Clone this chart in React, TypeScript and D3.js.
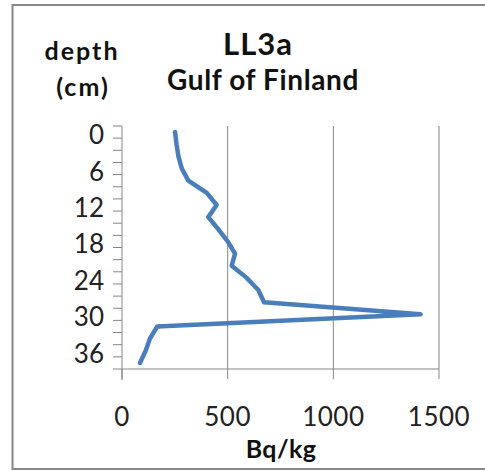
import React from "react";
import * as d3 from "d3";

const depths = [0, 2, 4, 6, 8, 10, 12, 14, 16, 18, 20, 22, 24, 26, 28, 30, 32, 34, 36, 38];
const activity = [251, 258, 267, 283, 314, 401, 448, 408, 456, 500, 535, 519, 590, 645, 672, 1413, 167, 132, 112, 85];
const depthTickLabels = [0, 6, 12, 18, 24, 30, 36];
const xTickValues = [0, 500, 1000, 1500];

const W = 485;
const H = 471;
const FONT = "Lato, 'Open Sans', 'Liberation Sans', sans-serif";
const AXIS = "#868686";

export default function App() {
  const x = d3.scaleLinear().domain([0, 1500]).range([122, 439]);
  const y = d3.scaleBand<number>().domain(depths).range([126, 369]).padding(0);
  const bw = y.bandwidth();
  const cy = (d: number) => (y(d) as number) + bw / 2;

  const pts: [number, number][] = depths.map((d, i) => [x(activity[i]), cy(d)]);
  const line = d3.line<[number, number]>().x((p) => p[0]).y((p) => p[1]);

  const top = 126;
  const bottom = 369;
  const boundaries = d3.range(depths.length + 1).map((i) => top + i * bw);

  return (
    <svg
      width={W}
      height={H}
      style={{ position: "absolute", left: 0, top: 0, background: "#fff" }}
      fontFamily={FONT}
    >
      <rect x={0} y={0} width={W} height={H} fill="#fff" />
      {/* outer border */}
      <rect x={12.5} y={5} width={W} height={464} fill="none" stroke="#888" strokeWidth={2} />

      {/* vertical gridlines */}
      {xTickValues.slice(1).map((v) => (
        <line key={"g" + v} x1={x(v)} x2={x(v)} y1={top} y2={bottom} stroke={AXIS} strokeWidth={1} />
      ))}

      {/* x axis */}
      <line x1={x(0)} x2={x(1500)} y1={bottom} y2={bottom} stroke={AXIS} strokeWidth={1} />
      {xTickValues.map((v) => (
        <line key={"xt" + v} x1={x(v)} x2={x(v)} y1={bottom} y2={bottom + 10} stroke={AXIS} strokeWidth={1} />
      ))}
      {xTickValues.map((v) => (
        <text key={"xl" + v} x={x(v)} y={426} textAnchor="middle" fontSize={26} letterSpacing={0.5} fill="#222">
          {v}
        </text>
      ))}

      {/* y axis */}
      <line x1={x(0)} x2={x(0)} y1={top} y2={bottom + 11} stroke={AXIS} strokeWidth={1} />
      {boundaries.map((b, i) => (
        <line key={"yt" + i} x1={113} x2={x(0)} y1={b} y2={b} stroke={AXIS} strokeWidth={1} />
      ))}
      {depthTickLabels.map((d) => (
        <text key={"yl" + d} x={104} y={cy(d) + 12} textAnchor="end" fontSize={26} fill="#222">
          {d}
        </text>
      ))}

      {/* data line */}
      <path
        d={line(pts) || ""}
        fill="none"
        stroke="#4a7ebb"
        strokeWidth={4.5}
        strokeLinejoin="round"
        strokeLinecap="round"
      />

      {/* titles */}
      <text x={258} y={55} textAnchor="middle" fontSize={31} letterSpacing={1} fontWeight="bold" fill="#111">
        LL3a
      </text>
      <text x={263} y={90} textAnchor="middle" fontSize={28} letterSpacing={0.6} fontWeight="bold" fill="#111">
        Gulf of Finland
      </text>
      <text x={82} y={60} textAnchor="middle" fontSize={25} letterSpacing={2} fontWeight="bold" fill="#111">
        depth
      </text>
      <text x={83} y={96} textAnchor="middle" fontSize={25} letterSpacing={2} fontWeight="bold" fill="#111">
        (cm)
      </text>
      <text x={281} y={458} textAnchor="middle" fontSize={25} letterSpacing={0.4} fontWeight="bold" fill="#111">
        Bq/kg
      </text>
    </svg>
  );
}
